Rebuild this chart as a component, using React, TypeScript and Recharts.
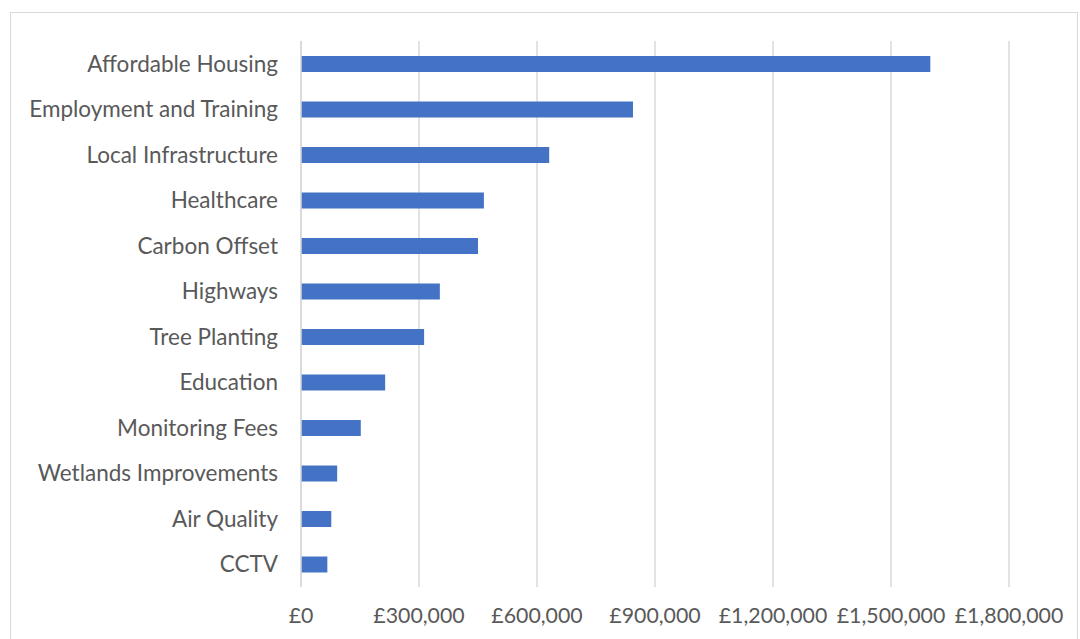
import { BarChart, Bar, XAxis, YAxis, CartesianGrid } from "recharts"

const categories = [
  "Affordable Housing",
  "Employment and Training",
  "Local Infrastructure",
  "Healthcare",
  "Carbon Offset ",
  "Highways",
  "Tree Planting",
  "Education",
  "Monitoring Fees",
  "Wetlands Improvements",
  "Air Quality",
  "CCTV",
]

const amounts = [
  1600000, 844000, 631000, 465000, 450000, 353000, 313000, 214000, 152000, 92000, 77000, 67000,
]

const xTicks = [0, 300000, 600000, 900000, 1200000, 1500000, 1800000]

const data = categories.map((name, i) => ({ name, value: amounts[i] }))

const fmt = (v: number) => "£" + v.toLocaleString("en-GB")

const font = "Lato, 'Open Sans', sans-serif"
const yTickStyle = { fill: "#595959", fontSize: 22.5, fontFamily: font }
const xTickStyle = { fill: "#595959", fontSize: 21.3, fontFamily: font }

export default function App() {
  return (
    <div style={{ position: "absolute", left: 0, top: 0, width: 1080, height: 639, overflow: "hidden", background: "#fff" }}>
      <div
        style={{
          position: "absolute",
          left: 10,
          top: 12,
          width: 1066,
          height: 660,
          border: "1px solid #d9d9d9",
        }}
      />
      <div style={{ position: "absolute", left: 0, top: 0 }}>
        <BarChart
          width={1080}
          height={639}
          data={data}
          layout="vertical"
          margin={{ top: 41, right: 71, bottom: 12, left: 0 }}
          barSize={16}
        >
          <CartesianGrid horizontal={false} stroke="#d9d9d9" strokeWidth={1.5} />
          <XAxis
            type="number"
            domain={[0, 1800000]}
            ticks={xTicks}
            tickFormatter={fmt}
            axisLine={false}
            tickLine={false}
            tickSize={0}
            tickMargin={21}
            height={40}
            tick={xTickStyle}
            interval={0}
          />
          <YAxis
            type="category"
            dataKey="name"
            width={301}
            axisLine={{ stroke: "#d9d9d9", strokeWidth: 1.5 }}
            tickLine={false}
            tickSize={0}
            tickMargin={23}
            tick={yTickStyle}
            interval={0}
          />
          <Bar dataKey="value" fill="#4472C4" isAnimationActive={false} />
        </BarChart>
      </div>
    </div>
  )
}
